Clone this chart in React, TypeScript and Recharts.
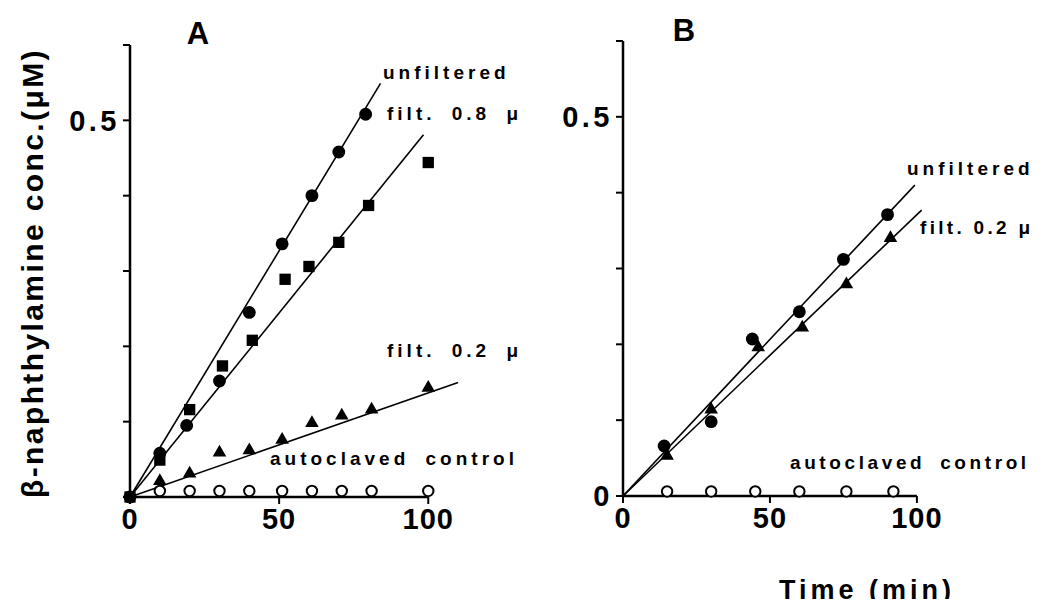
import {
  ComposedChart,
  Scatter,
  Line,
  XAxis,
  YAxis,
  ReferenceLine,
  Symbols
} from 'recharts';

const FONT = '"Liberation Sans", Arial, Helvetica, sans-serif';

const timeTicks = [0, 50, 100];
const concTicks = [0, 0.1, 0.2, 0.3, 0.4, 0.5, 0.6];

// panel A - measured points
const aUnfilteredTime = [0, 10, 19, 30, 40, 51, 61, 70, 79];
const aUnfilteredConc = [0, 0.058, 0.095, 0.154, 0.245, 0.336, 0.4, 0.458, 0.508];
const aFilt08Time = [0, 10, 20, 31, 41, 52, 60, 70, 80, 100];
const aFilt08Conc = [0, 0.049, 0.116, 0.174, 0.208, 0.289, 0.306, 0.338, 0.387, 0.444];
const aFilt02Time = [10, 20, 30, 40, 51, 61, 71, 81, 100];
const aFilt02Conc = [0.021, 0.031, 0.059, 0.062, 0.076, 0.098, 0.108, 0.116, 0.145];
const aControlTime = [10, 20, 30, 40, 51, 61, 71, 81, 100];
const aControlConc = [0.008, 0.008, 0.008, 0.008, 0.008, 0.008, 0.008, 0.008, 0.008];

// panel A - fitted lines (end points)
const aUnfilteredFitTime = [0, 84];
const aUnfilteredFitConc = [0, 0.549];
const aFilt08FitTime = [0, 98.4];
const aFilt08FitConc = [0, 0.481];
const aFilt02FitTime = [0, 110];
const aFilt02FitConc = [0, 0.152];

// panel B - measured points
const bUnfilteredTime = [14, 30, 44, 60, 75, 90];
const bUnfilteredConc = [0.066, 0.098, 0.207, 0.243, 0.312, 0.371];
const bFilt02Time = [15, 30, 46, 61, 76, 91];
const bFilt02Conc = [0.053, 0.114, 0.196, 0.222, 0.279, 0.34];
const bControlTime = [15, 30, 45, 60, 76, 92];
const bControlConc = [0.006, 0.006, 0.006, 0.006, 0.006, 0.006];

// panel B - fitted lines
const bUnfilteredFitTime = [0, 99.3];
const bUnfilteredFitConc = [0, 0.41];
const bFilt02FitTime = [0, 101.6];
const bFilt02FitConc = [0, 0.377];

const toPoints = (xs: number[], ys: number[]) => xs.map((x, i) => ({ x, y: ys[i] }));

const xTickStyle = { fontSize: 29, fontWeight: 700, fill: '#000', fontFamily: FONT, letterSpacing: 1 };
const yTickStyle = { fontSize: 29, fontWeight: 700, fill: '#000', fontFamily: FONT, letterSpacing: 3.5 };

type Kind = 'dot' | 'square' | 'tri' | 'open';

// marker look per series kind
const markerLook: Record<Kind, { type: 'circle' | 'square' | 'triangle'; size: number; fill: string; strokeWidth: number }> = {
  dot: { type: 'circle', size: 130, fill: '#000', strokeWidth: 0 },
  square: { type: 'square', size: 128, fill: '#000', strokeWidth: 0 },
  tri: { type: 'triangle', size: 80, fill: '#000', strokeWidth: 0 },
  open: { type: 'circle', size: 85, fill: '#fff', strokeWidth: 2 }
};

const markerShape = (kind: Kind) => (props: any) => {
  const look = markerLook[kind];
  return (
    <Symbols
      cx={props.cx}
      cy={props.cy}
      type={look.type}
      size={look.size}
      fill={look.fill}
      stroke="#000"
      strokeWidth={look.strokeWidth}
    />
  );
};

type Marker = { data: { x: number; y: number }[]; kind: Kind };

const Panel = ({ left, width, margin, yFormatter, fits, markers }: {
  left: number;
  width: number;
  margin: { top: number; right: number; bottom: number; left: number };
  yFormatter: (v: number) => string;
  fits: { x: number; y: number }[][];
  markers: Marker[];
}) => (
  <div style={{ position: 'absolute', left, top: 0 }}>
    <ComposedChart width={width} height={607} margin={margin}>
      <XAxis
        type="number"
        dataKey="x"
        domain={[0, 115]}
        ticks={timeTicks}
        interval={0}
        axisLine={false}
        tickLine={{ stroke: '#000', strokeWidth: 2 }}
        tickSize={7}
        tickMargin={4}
        tick={xTickStyle}
        height={40}
      />
      <YAxis
        type="number"
        dataKey="y"
        domain={[0, 0.6]}
        ticks={concTicks}
        interval={0}
        axisLine={{ stroke: '#000', strokeWidth: 2.5 }}
        tickLine={{ stroke: '#000', strokeWidth: 2 }}
        tickSize={7}
        tickMargin={3}
        tickFormatter={yFormatter}
        tick={yTickStyle}
        width={60}
      />
      <ReferenceLine segment={[{ x: 0, y: 0 }, { x: 100, y: 0 }]} stroke="#000" strokeWidth={2.5} />
      {fits.map((fit, i) => (
        <Line
          key={`fit-${i}`}
          data={fit}
          dataKey="y"
          type="linear"
          stroke="#000"
          strokeWidth={1.6}
          dot={false}
          activeDot={false}
          isAnimationActive={false}
        />
      ))}
      {markers.map((m, i) => (
        <Scatter
          key={`pts-${i}`}
          data={m.data}
          shape={markerShape(m.kind)}
          isAnimationActive={false}
        />
      ))}
    </ComposedChart>
  </div>
);

const Note = ({ x, y, children, spacing = 4, words = 7 }: { x: number; y: number; children: any; spacing?: number; words?: number }) => (
  <div
    style={{
      position: 'absolute',
      left: x,
      top: y,
      transform: 'translateY(-50%)',
      fontFamily: FONT,
      fontWeight: 700,
      fontSize: 19,
      letterSpacing: spacing,
      wordSpacing: words,
      whiteSpace: 'nowrap',
      lineHeight: 1
    }}
  >
    {children}
  </div>
);

const App = () => {
  const markersA: Marker[] = [
    { data: toPoints(aControlTime, aControlConc), kind: 'open' },
    { data: toPoints(aFilt02Time, aFilt02Conc), kind: 'tri' },
    { data: toPoints(aFilt08Time, aFilt08Conc), kind: 'square' },
    { data: toPoints(aUnfilteredTime, aUnfilteredConc), kind: 'dot' }
  ];
  const fitsA = [
    toPoints(aUnfilteredFitTime, aUnfilteredFitConc),
    toPoints(aFilt08FitTime, aFilt08FitConc),
    toPoints(aFilt02FitTime, aFilt02FitConc)
  ];
  const markersB: Marker[] = [
    { data: toPoints(bControlTime, bControlConc), kind: 'open' },
    { data: toPoints(bFilt02Time, bFilt02Conc), kind: 'tri' },
    { data: toPoints(bUnfilteredTime, bUnfilteredConc), kind: 'dot' }
  ];
  const fitsB = [
    toPoints(bUnfilteredFitTime, bUnfilteredFitConc),
    toPoints(bFilt02FitTime, bFilt02FitConc)
  ];

  const panelLetter = { position: 'absolute' as const, transform: 'translate(-50%, -50%)', fontFamily: FONT, fontWeight: 700, fontSize: 31, lineHeight: 1 };

  return (
    <div style={{ position: 'relative', width: 1042, height: 607, margin: -8, background: '#fff', overflow: 'hidden' }}>
      <Panel
        left={0}
        width={560}
        margin={{ top: 45, right: 87, bottom: 70, left: 70 }}
        yFormatter={(v) => (v === 0.5 ? '0.5' : '')}
        fits={fitsA}
        markers={markersA}
      />
      <Panel
        left={560}
        width={482}
        margin={{ top: 41, right: 81, bottom: 71, left: 3 }}
        yFormatter={(v) => (v === 0.5 ? '0.5' : v === 0 ? '0' : '')}
        fits={fitsB}
        markers={markersB}
      />

      <div style={{ ...panelLetter, left: 198, top: 33 }}>A</div>
      <div style={{ ...panelLetter, left: 684, top: 30 }}>B</div>

      <div
        style={{
          position: 'absolute',
          left: 33,
          top: 273,
          transform: 'translate(-50%, -50%) rotate(-90deg)',
          fontFamily: FONT,
          fontWeight: 700,
          fontSize: 30,
          letterSpacing: 2.4,
          whiteSpace: 'nowrap',
          lineHeight: 1
        }}
      >
        β-naphthylamine conc.(μM)
      </div>
      <div
        style={{
          position: 'absolute',
          left: 867,
          top: 590,
          transform: 'translate(-50%, -50%)',
          fontFamily: FONT,
          fontWeight: 700,
          fontSize: 27,
          letterSpacing: 4,
          whiteSpace: 'nowrap',
          lineHeight: 1
        }}
      >
        Time (min)
      </div>

      <Note x={383} y={72}>unfiltered</Note>
      <Note x={387} y={113}>filt. 0.8 μ</Note>
      <Note x={387} y={350}>filt. 0.2 μ</Note>
      <Note x={270} y={458}>autoclaved control</Note>

      <Note x={907} y={168}>unfiltered</Note>
      <Note x={920} y={227} spacing={3.3} words={0}>filt. 0.2 μ</Note>
      <Note x={790} y={462} spacing={3.6} words={6}>autoclaved control</Note>
    </div>
  );
};

export default App;
